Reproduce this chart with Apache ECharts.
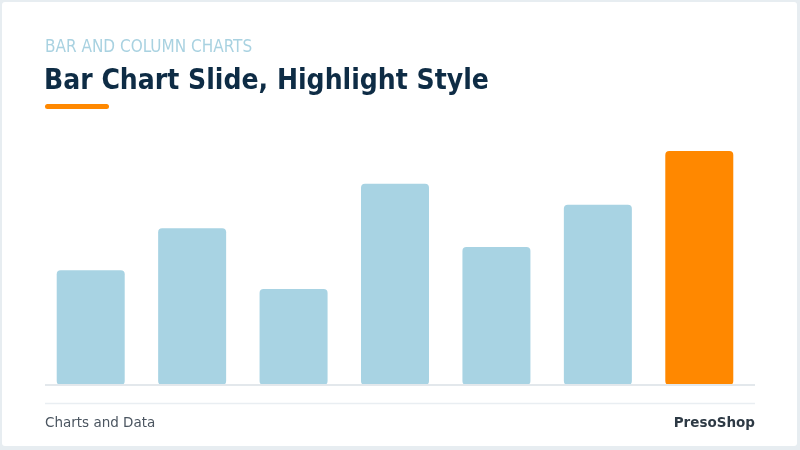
<!DOCTYPE html>
<html>
<head>
<meta charset="utf-8">
<script src="https://cdn.jsdelivr.net/npm/echarts@6/dist/echarts.min.js"></script>
<style>
html,body{margin:0;padding:0;background:#e7edf1;}
#main{width:800px;height:450px;}
</style>
</head>
<body>
<div id="main"></div>
<script>
var categories = ['A', 'B', 'C', 'D', 'E', 'F', 'G'];
var values = [49, 67, 41, 86, 59, 77, 100];
var highlightIndex = 6;

var fontFamily = '"DejaVu Sans", "Open Sans", sans-serif';
var condensed = '"DejaVu Sans Condensed", "DejaVu Sans", sans-serif';
var mychart = echarts.init(document.getElementById('main'), null, {renderer: 'canvas'});

var barData = values.map(function (v, i) {
    return {
        value: v,
        itemStyle: {color: i === highlightIndex ? '#ff8800' : '#a8d3e3'}
    };
});

var option = {
    backgroundColor: '#e7edf1',
    animation: false,
    grid: {left: 40, right: 50, top: 151, bottom: 65},
    xAxis: {
        type: 'category',
        data: categories,
        axisLine: {show: false},
        axisTick: {show: false},
        axisLabel: {show: false}
    },
    yAxis: {
        type: 'value',
        min: 0,
        max: 100,
        show: false,
        splitLine: {show: false}
    },
    graphic: [
        {type: 'rect', z: -10, shape: {x: 2, y: 2, width: 795, height: 444, r: 3},
         style: {fill: '#ffffff'}},
        {type: 'text', left: 45, top: 39,
         style: {text: 'BAR AND COLUMN CHARTS', fill: '#a9d2e1', font: '17px ' + condensed}},
        {type: 'text', left: 44, top: 68,
         style: {text: 'Bar Chart Slide, Highlight Style', fill: '#0e2c45', font: 'bold 28px ' + condensed}},
        {type: 'rect', shape: {x: 45, y: 104, width: 64, height: 5, r: 2.5},
         style: {fill: '#ff8800'}},
        {type: 'line', z: 10, shape: {x1: 45, y1: 385, x2: 755, y2: 385},
         style: {stroke: '#e3e8ec', lineWidth: 2}},
        {type: 'line', shape: {x1: 45, y1: 403.5, x2: 755, y2: 403.5},
         style: {stroke: '#e9eef2', lineWidth: 1.5}},
        {type: 'text', left: 45, top: 416,
         style: {text: 'Charts and Data', fill: '#4b5560', font: '13.5px ' + fontFamily}},
        {type: 'text', right: 45, top: 416,
         style: {text: 'PresoShop', fill: '#2e3a45', font: 'bold 13.5px ' + fontFamily}}
    ],
    series: [{
        type: 'bar',
        data: barData,
        barWidth: 68,
        itemStyle: {borderRadius: 4}
    }]
};
mychart.setOption(option);
</script>
</body>
</html>
